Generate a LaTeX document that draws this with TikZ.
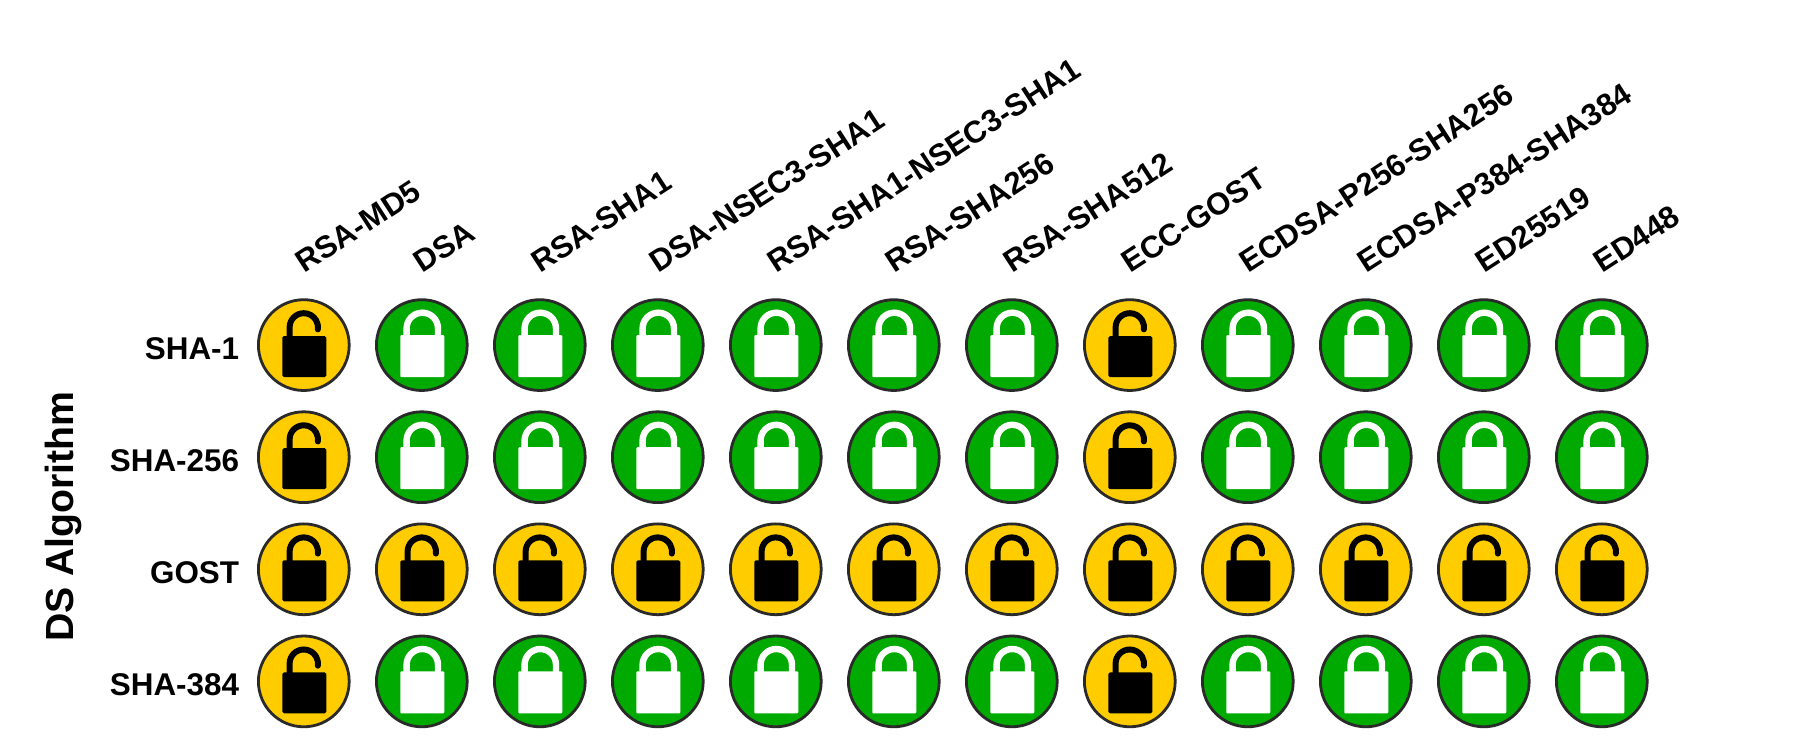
\documentclass[tikz,border=0pt]{standalone}
\usepackage{fontspec}
\setmainfont{Liberation Sans}
\usepackage{tikz}
\usetikzlibrary{positioning}

\definecolor{lockyellow}{HTML}{FFCC00}
\definecolor{lockgreen}{HTML}{00AA00}
\definecolor{lockrim}{HTML}{2A2A2A}

\begin{document}
\begin{tikzpicture}[
    x=0.5pt, y=0.5pt,
    badge/.style={circle, draw=lockrim, line width=1.4pt, minimum size=45.4pt, inner sep=0pt},
    openbadge/.style={badge, fill=lockyellow},
    closedbadge/.style={badge, fill=lockgreen},
    rowlabel/.style={font=\bfseries\fontsize{15.7}{18}\selectfont, inner sep=0pt, anchor=base east},
    collabel/.style={font=\bfseries\fontsize{15.5}{18}\selectfont, inner sep=0pt, anchor=base west, rotate=33},
    axislabel/.style={font=\bfseries\fontsize{19.6}{23}\selectfont, inner sep=0pt, anchor=base, rotate=90},
    lockopen/.pic={
        \draw[line width=3pt, line cap=round] (-14.2,4) -- (-14.2,17.7) arc[start angle=180, end angle=-8, radius=14.2];
        \fill[black, rounded corners=0.8pt] (-21.5,-32) rectangle (22.5,9);
    },
    lockclosed/.pic={
        \draw[white, line width=3.2pt] (-15.2,6) -- (-15.2,16.7) arc[start angle=180, end angle=0, radius=15.7] -- (16.2,6);
        \fill[white, rounded corners=0.5pt] (-21.5,-32) rectangle (22.5,10);
    }
]

\useasboundingbox (0,0) rectangle (1806,750);

% column headers
\foreach \algname [count=\c] in {RSA-MD5, DSA, RSA-SHA1, DSA-NSEC3-SHA1, RSA-SHA1-NSEC3-SHA1, RSA-SHA256, RSA-SHA512, ECC-GOST, ECDSA-P256-SHA256, ECDSA-P384-SHA384, ED25519, ED448} {
    \node[collabel] (alg\c) at ({304.5+118*(\c-1)},476) {\algname};
}

% one row of badges per DS algorithm
\foreach \dsname [count=\r] in {SHA-1, SHA-256, GOST, SHA-384} {
    \node[rowlabel] (ds\r) at (239.5,{390.7-112.1*(\r-1)}) {\dsname};
    \foreach \c in {1,...,12} {
        \pgfmathtruncatemacro{\isopen}{(\r==3 || \c==1 || \c==8) ? 1 : 0}
        \ifnum\isopen=1
            \node[openbadge] (lock\r-\c) at ({303.8+118*(\c-1)},{404.9-112.1*(\r-1)}) {};
            \pic at (lock\r-\c) {lockopen};
        \else
            \node[closedbadge] (lock\r-\c) at ({303.8+118*(\c-1)},{404.9-112.1*(\r-1)}) {};
            \pic at (lock\r-\c) {lockclosed};
        \fi
    }
}

\node[axislabel] (dsaxis) at (73.3,233.3) {DS Algorithm};

\end{tikzpicture}
\end{document}
